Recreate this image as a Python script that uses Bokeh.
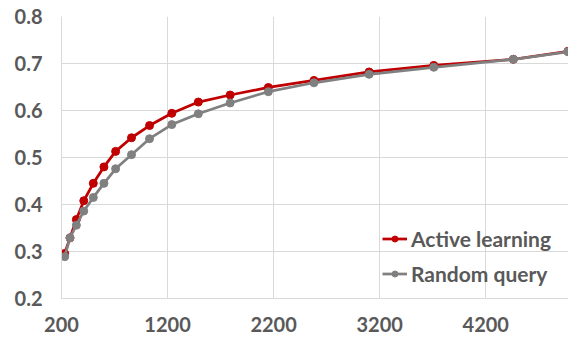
from bokeh.plotting import figure
from bokeh.models import FixedTicker, Range1d, Legend, LegendItem, NumeralTickFormatter
from bokeh.embed import file_html
from bokeh.resources import INLINE

samples = [230, 280, 340, 410, 500, 600, 710, 860, 1030, 1240, 1490, 1790, 2150, 2580, 3100, 3710, 4460, 4975]
active = [0.296, 0.329, 0.368, 0.408, 0.445, 0.480, 0.513, 0.542, 0.568, 0.594, 0.618, 0.633, 0.649, 0.664, 0.682, 0.696, 0.709, 0.726]
random_q = [0.289, 0.329, 0.356, 0.386, 0.415, 0.445, 0.476, 0.506, 0.540, 0.570, 0.593, 0.616, 0.640, 0.659, 0.677, 0.692, 0.709, 0.725]
x_ticks = [200, 1200, 2200, 3200, 4200]
y_ticks = [0.2, 0.3, 0.4, 0.5, 0.6, 0.7, 0.8]

FONT = "Lato"
TXT = "#595959"
GRID = "#d9d9d9"
RED = "#c00000"
GRAY = "#808080"

p = figure(width=568, height=334, output_backend="svg", toolbar_location=None,
           x_range=Range1d(200, 4980), y_range=Range1d(0.2, 0.8),
           min_border_left=61, min_border_right=0, min_border_top=16, min_border_bottom=34)
p.outline_line_color = None
p.background_fill_color = "white"

l1 = p.line(samples, active, line_color=RED, line_width=2.75)
d1 = p.scatter(samples, active, size=8, fill_color=RED, line_color=RED)
l2 = p.line(samples, random_q, line_color=GRAY, line_width=2.75)
d2 = p.scatter(samples, random_q, size=8, fill_color=GRAY, line_color=GRAY)

for ax in (p.xaxis[0], p.yaxis[0]):
    ax.major_label_text_font = FONT
    ax.major_label_text_font_style = "bold"
    ax.major_label_text_font_size = "20px"
    ax.major_label_text_color = TXT
    ax.axis_line_color = GRID
    ax.axis_line_width = 1
    ax.major_tick_line_color = None
    ax.minor_tick_line_color = None

p.xaxis.ticker = FixedTicker(ticks=x_ticks)
p.yaxis.ticker = FixedTicker(ticks=y_ticks)
p.yaxis.formatter = NumeralTickFormatter(format="0.0")
p.xaxis.major_label_standoff = 12
p.yaxis.major_label_standoff = 13

p.xgrid.ticker = FixedTicker(ticks=x_ticks)
p.ygrid.ticker = FixedTicker(ticks=y_ticks)
p.grid.grid_line_color = GRID
p.grid.grid_line_width = 1

legend = Legend(items=[LegendItem(label="Active learning", renderers=[l1, d1]),
                       LegendItem(label="Random query", renderers=[l2, d2])],
                location=(321, 12))
legend.label_text_font = FONT
legend.label_text_font_style = "bold"
legend.label_text_font_size = "21px"
legend.label_text_color = TXT
legend.background_fill_alpha = 0
legend.border_line_color = None
legend.padding = 0
legend.margin = 0
legend.spacing = 10
legend.glyph_width = 25
legend.glyph_height = 15
legend.label_height = 25
legend.label_standoff = 4
p.add_layout(legend, "center")

open("out.html", "w").write(file_html(p, INLINE))
